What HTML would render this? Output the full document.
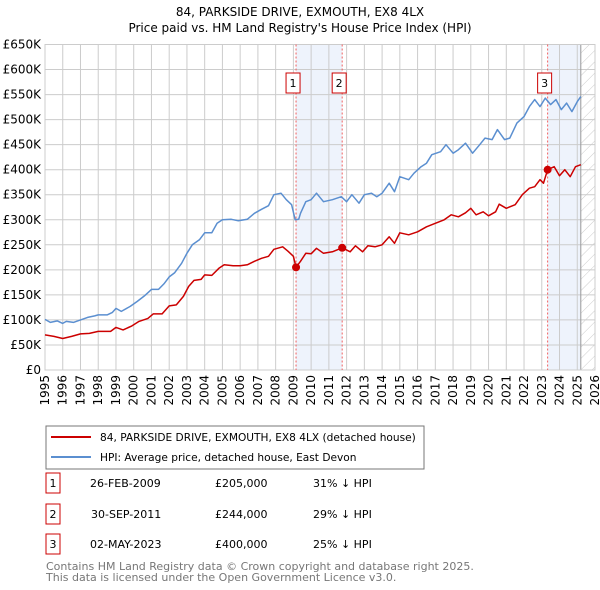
<!DOCTYPE html>
<html><head><meta charset="utf-8"><style>
body{margin:0;background:#fff;font-family:"DejaVu Sans","Liberation Sans",sans-serif;}
svg{display:block}
</style></head><body>
<svg id="chart" width="600" height="590" xmlns="http://www.w3.org/2000/svg">
<defs><pattern id="hatch" width="8" height="8" patternUnits="userSpaceOnUse" patternTransform="rotate(45)"><line x1="0" y1="0" x2="0" y2="8" stroke="#ccc" stroke-width="1"/></pattern></defs>
<text x="300" y="16" text-anchor="middle" font-size="12">84, PARKSIDE DRIVE, EXMOUTH, EX8 4LX</text>
<text x="300" y="32" text-anchor="middle" font-size="12">Price paid vs. HM Land Registry's House Price Index (HPI)</text>
<g id="plot"></g>
<g>
<rect x="46" y="426" width="378" height="43" fill="#fff" stroke="#777"/>
<line x1="51" y1="437" x2="91" y2="437" stroke="#cc0000" stroke-width="2"/>
<text x="100" y="441" font-size="10.6">84, PARKSIDE DRIVE, EXMOUTH, EX8 4LX (detached house)</text>
<line x1="51" y1="457" x2="91" y2="457" stroke="#5b8fd0" stroke-width="2"/>
<text x="100" y="461" font-size="10.6">HPI: Average price, detached house, East Devon</text>
</g>
<g font-size="11">
<rect x="46" y="473" width="14" height="20" fill="#fff" stroke="#c00"/><text x="53" y="487" text-anchor="middle">1</text>
<text x="90" y="487">26-FEB-2009</text><text x="215" y="487">£205,000</text><text x="313" y="487">31% ↓ HPI</text>
<rect x="46" y="504" width="14" height="20" fill="#fff" stroke="#c00"/><text x="53" y="518" text-anchor="middle">2</text>
<text x="91" y="518">30-SEP-2011</text><text x="215" y="518">£244,000</text><text x="313" y="518">29% ↓ HPI</text>
<rect x="46" y="534" width="14" height="20" fill="#fff" stroke="#c00"/><text x="53" y="548" text-anchor="middle">3</text>
<text x="90" y="548">02-MAY-2023</text><text x="215" y="548">£400,000</text><text x="313" y="548">25% ↓ HPI</text>
</g>
<text x="46" y="570" font-size="11" fill="#777">Contains HM Land Registry data © Crown copyright and database right 2025.</text>
<text x="46" y="581" font-size="11" fill="#777">This data is licensed under the Open Government Licence v3.0.</text>
</svg>
<script>
const yTicks=[0,50,100,150,200,250,300,350,400,450,500,550,600,650];
const yTickLabels=["£0","£50K","£100K","£150K","£200K","£250K","£300K","£350K","£400K","£450K","£500K","£550K","£600K","£650K"];
const xYears=[1995,1996,1997,1998,1999,2000,2001,2002,2003,2004,2005,2006,2007,2008,2009,2010,2011,2012,2013,2014,2015,2016,2017,2018,2019,2020,2021,2022,2023,2024,2025,2026];
const hpiDates=[1995.0,1995.3,1995.7,1996.0,1996.2,1996.6,1997.0,1997.4,1997.8,1998.0,1998.5,1998.8,1999.0,1999.3,1999.8,2000.2,2000.6,2001.0,2001.4,2001.7,2002.0,2002.3,2002.7,2003.0,2003.3,2003.7,2004.0,2004.4,2004.7,2005.0,2005.5,2005.9,2006.4,2006.8,2007.2,2007.6,2007.9,2008.3,2008.6,2008.9,2009.1,2009.3,2009.4,2009.7,2010.0,2010.3,2010.7,2011.2,2011.7,2012.0,2012.3,2012.7,2013.0,2013.4,2013.7,2014.0,2014.4,2014.7,2015.0,2015.5,2015.8,2016.2,2016.5,2016.8,2017.3,2017.6,2018.0,2018.3,2018.7,2019.1,2019.5,2019.8,2020.2,2020.5,2020.9,2021.2,2021.6,2022.0,2022.3,2022.6,2022.9,2023.2,2023.5,2023.8,2024.1,2024.4,2024.7,2025.0,2025.2];
const hpiValues=[101,95,98,93,97,95,100,105,108,110,110,115,123,117,127,137,148,161,161,172,186,194,213,233,250,260,274,274,293,300,301,298,301,313,321,328,350,353,340,330,300,301,313,336,340,353,336,340,346,336,350,333,350,353,346,353,373,356,386,380,393,406,413,430,436,450,433,440,453,433,450,463,460,480,460,463,493,506,526,540,526,543,530,540,520,533,516,536,546];
const priceDates=[1995.0,1995.5,1996.0,1996.5,1997.0,1997.5,1998.0,1998.7,1999.0,1999.4,1999.9,2000.3,2000.8,2001.1,2001.6,2002.0,2002.4,2002.8,2003.1,2003.4,2003.8,2004.0,2004.4,2004.8,2005.1,2005.6,2006.0,2006.4,2006.8,2007.2,2007.6,2007.9,2008.4,2008.7,2009.0,2009.15,2009.4,2009.7,2010.0,2010.3,2010.7,2011.2,2011.75,2012.2,2012.5,2012.9,2013.2,2013.6,2014.0,2014.4,2014.7,2015.0,2015.5,2016.0,2016.5,2017.0,2017.5,2017.9,2018.3,2018.7,2019.0,2019.3,2019.7,2020.0,2020.4,2020.6,2021.0,2021.5,2021.9,2022.3,2022.6,2022.9,2023.1,2023.33,2023.7,2024.0,2024.3,2024.6,2024.9,2025.2];
const priceValues=[70,67,63,67,72,73,77,77,85,80,88,97,103,112,112,128,130,147,167,179,181,190,189,203,210,208,208,210,217,223,227,241,246,237,227,205,217,233,232,243,233,236,244,236,248,236,248,246,250,266,253,274,270,276,286,293,300,310,306,314,323,310,316,308,316,331,323,330,350,363,366,380,373,400,406,388,400,386,406,410];
const saleDates=[2009.15,2011.75,2023.33];
const saleValues=[205,244,400];
const saleLabels=["1","2","3"];

const NS="http://www.w3.org/2000/svg";
const L=45,R=595,T=44.5,B=370;
const xS=y=>L+(y-1995)/(2026-1995)*(R-L);
const yS=v=>B-v/650*(B-T);
const g=document.getElementById('plot');
function mk(tag,at,parent){const e=document.createElementNS(NS,tag);for(const k in at)e.setAttribute(k,at[k]);(parent||g).appendChild(e);return e;}
let e;
e=mk('rect',{x:xS(saleDates[0]),y:T,width:xS(saleDates[1])-xS(saleDates[0]),height:B-T,fill:'#eef3fc'});


const endX=xS(2025.2);
e=mk('rect',{x:xS(saleDates[2]),y:T,width:endX-xS(saleDates[2]),height:B-T,fill:'#eef3fc'});


e=mk('rect',{x:endX,y:T,width:R-endX,height:B-T,fill:'url(#hatch)'});


yTicks.forEach((v,i)=>{
 e=mk('line',{x1:L,x2:R,y1:yS(v),y2:yS(v),stroke:'#ccc'});
 
 
 e=mk('text',{x:L-4,y:yS(v)+4,'text-anchor':'end','font-size':'12'});e.textContent=yTickLabels[i];
 
 
});
xYears.forEach(yr=>{
 e=mk('line',{x1:xS(yr),x2:xS(yr),y1:T,y2:B,stroke:'#ccc'});
 
 
 const x=xS(yr)+4;
 e=mk('text',{x:x,y:375,'text-anchor':'end','font-size':'12',transform:`rotate(-90 ${x} 375)`});e.textContent=yr;
 
 
});
e=mk('line',{x1:endX,x2:endX,y1:T,y2:B,stroke:'#999'});


e=mk('rect',{x:L,y:T,width:R-L,height:B-T,fill:'none',stroke:'#ccc'});


saleDates.forEach((d,i)=>{
 e=mk('line',{x1:xS(d),x2:xS(d),y1:T,y2:B,stroke:'#f06060','stroke-dasharray':'2,2'});
 
 
});
function line(xs,vs,col,name){
 const p=xs.map((x,i)=>(i?'L':'M')+xS(x).toFixed(1)+','+yS(vs[i]).toFixed(1)).join('');
 e=mk('path',{d:p,fill:'none',stroke:col,'stroke-width':1.5,'stroke-linejoin':'round'});
 
 
}
line(hpiDates,hpiValues,'#5b8fd0','hpi-line');
line(priceDates,priceValues,'#cc0000','price-paid-line');
saleDates.forEach((d,i)=>{
 e=mk('circle',{cx:xS(d),cy:yS(saleValues[i]),r:4,fill:'#cc0000'});
 
 
 const bx=xS(d)-10;
 e=mk('rect',{x:bx,y:73,width:14,height:20,fill:'#fff',stroke:'#c00'});
 
 
 e=mk('text',{x:bx+7,y:87,'text-anchor':'middle','font-size':'11'});e.textContent=saleLabels[i];
 
 
});
</script>
</body></html>
